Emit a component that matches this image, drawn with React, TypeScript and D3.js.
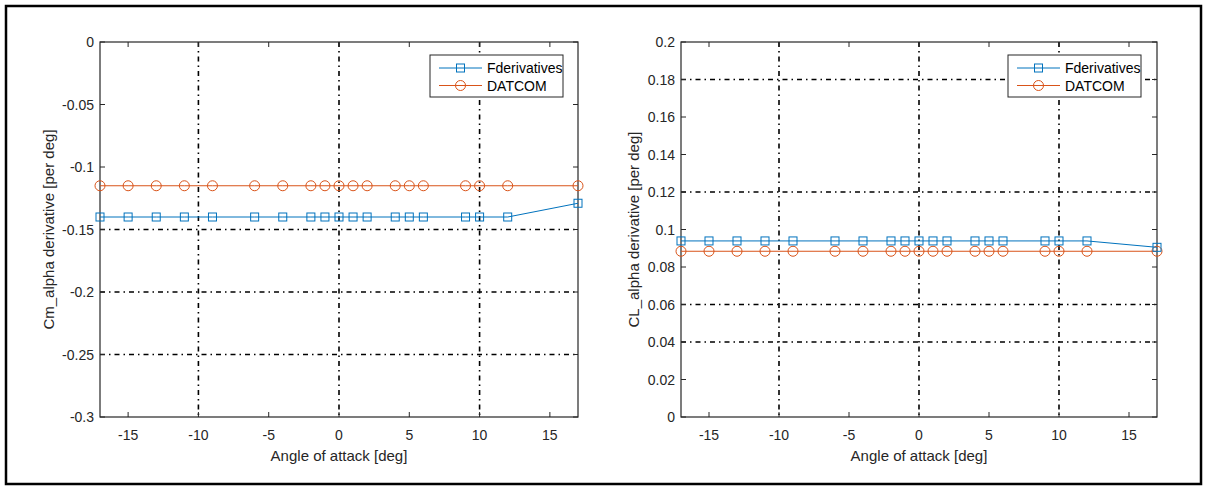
import React from "react";
import * as d3 from "d3";

const alpha = [-17, -15, -13, -11, -9, -6, -4, -2, -1, 0, 1, 2, 4, 5, 6, 9, 10, 12, 17];

const cmFderiv = [-0.14, -0.14, -0.14, -0.14, -0.14, -0.14, -0.14, -0.14, -0.14, -0.14, -0.14, -0.14, -0.14, -0.14, -0.14, -0.14, -0.14, -0.14, -0.129];
const cmDatcom = [-0.115, -0.115, -0.115, -0.115, -0.115, -0.115, -0.115, -0.115, -0.115, -0.115, -0.115, -0.115, -0.115, -0.115, -0.115, -0.115, -0.115, -0.115, -0.115];

const clFderiv = [0.0939, 0.0939, 0.0939, 0.0939, 0.0939, 0.0939, 0.0939, 0.0939, 0.0939, 0.0939, 0.0939, 0.0939, 0.0939, 0.0939, 0.0939, 0.0939, 0.0939, 0.0939, 0.0905];
const clDatcom = [0.0884, 0.0884, 0.0884, 0.0884, 0.0884, 0.0884, 0.0884, 0.0884, 0.0884, 0.0884, 0.0884, 0.0884, 0.0884, 0.0884, 0.0884, 0.0884, 0.0884, 0.0884, 0.0884];

const xTicks = [-15, -10, -5, 0, 5, 10, 15];
const xGrid = [-10, 0, 10];
const leftYTicks = [0, -0.05, -0.1, -0.15, -0.2, -0.25, -0.3];
const leftYGrid = [-0.15, -0.2, -0.25];
const rightYTicks = [0, 0.02, 0.04, 0.06, 0.08, 0.1, 0.12, 0.14, 0.16, 0.18, 0.2];
const rightYGrid = [0.18, 0.12, 0.06, 0.04];

const seriesNames = ["Fderivatives", "DATCOM"];
const BLUE = "#0072BD";
const ORANGE = "#D95319";
const AX = "#262626";
const FONT = "'Liberation Sans', Arial, Helvetica, sans-serif";

type PanelProps = {
  x0: number; x1: number; y0: number; y1: number;
  yDomain: [number, number];
  yTicks: number[]; yGrid: number[];
  s1: number[]; s2: number[];
  yLabel: string;
  yLabelOffset: number;
  legendX: number;
};

function fmt(v: number) {
  return String(+v.toFixed(3));
}

function Panel(p: PanelProps) {
  const x = d3.scaleLinear().domain([-17, 17]).range([p.x0, p.x1]);
  const y = d3.scaleLinear().domain(p.yDomain).range([p.y1, p.y0]);
  const line = d3.line<number>().x((_, i) => x(alpha[i])).y((d) => y(d));
  const dash = "5,4,1.5,4";
  const tl = 5;
  const lx = p.legendX;
  const ly = 55;
  return (
    <g>
      {xGrid.map((t) => (
        <line key={"gx" + t} x1={x(t)} x2={x(t)} y1={p.y0} y2={p.y1} stroke="#000" strokeWidth={1.6} strokeDasharray={dash} />
      ))}
      {p.yGrid.map((t) => (
        <line key={"gy" + t} x1={p.x0} x2={p.x1} y1={y(t)} y2={y(t)} stroke="#000" strokeWidth={1.6} strokeDasharray={dash} />
      ))}
      {xTicks.map((t) => (
        <g key={"xt" + t}>
          <line x1={x(t)} x2={x(t)} y1={p.y1} y2={p.y1 - tl} stroke={AX} />
          <line x1={x(t)} x2={x(t)} y1={p.y0} y2={p.y0 + tl} stroke={AX} />
          <text x={x(t)} y={p.y1 + 23} textAnchor="middle" fontSize={14} fill={AX} fontFamily={FONT}>{fmt(t)}</text>
        </g>
      ))}
      {p.yTicks.map((t) => (
        <g key={"yt" + t}>
          <line x1={p.x0} x2={p.x0 + tl} y1={y(t)} y2={y(t)} stroke={AX} />
          <line x1={p.x1} x2={p.x1 - tl} y1={y(t)} y2={y(t)} stroke={AX} />
          <text x={p.x0 - 6} y={y(t) + 5} textAnchor="end" fontSize={14} fill={AX} fontFamily={FONT}>{fmt(t)}</text>
        </g>
      ))}
      <rect x={p.x0} y={p.y0} width={p.x1 - p.x0} height={p.y1 - p.y0} fill="none" stroke={AX} strokeWidth={1.2} />
      <path d={line(p.s2) || ""} fill="none" stroke={ORANGE} strokeWidth={1} />
      {p.s2.map((v, i) => (
        <circle key={"c" + i} cx={x(alpha[i])} cy={y(v)} r={5} fill="none" stroke={ORANGE} strokeWidth={1} />
      ))}
      <path d={line(p.s1) || ""} fill="none" stroke={BLUE} strokeWidth={1} />
      {p.s1.map((v, i) => (
        <rect key={"s" + i} x={x(alpha[i]) - 4} y={y(v) - 4} width={8} height={8} fill="none" stroke={BLUE} strokeWidth={1} />
      ))}
      <text x={(p.x0 + p.x1) / 2} y={p.y1 + 44} textAnchor="middle" fontSize={15} fill={AX} fontFamily={FONT}>Angle of attack [deg]</text>
      <text transform={`translate(${p.x0 - p.yLabelOffset},${(p.y0 + p.y1) / 2}) rotate(-90)`} textAnchor="middle" fontSize={15} fill={AX} fontFamily={FONT}>{p.yLabel}</text>
      <rect x={lx} y={ly} width={133} height={42} fill="#fff" stroke={AX} strokeWidth={1} />
      <line x1={lx + 9} x2={lx + 52} y1={ly + 13} y2={ly + 13} stroke={BLUE} />
      <rect x={lx + 26.5} y={ly + 9} width={8} height={8} fill="none" stroke={BLUE} />
      <text x={lx + 57} y={ly + 18} fontSize={14} fill="#000" fontFamily={FONT}>{seriesNames[0]}</text>
      <line x1={lx + 9} x2={lx + 52} y1={ly + 30.5} y2={ly + 30.5} stroke={ORANGE} />
      <circle cx={lx + 30.5} cy={ly + 30.5} r={5} fill="none" stroke={ORANGE} />
      <text x={lx + 57} y={ly + 35.5} fontSize={14} fill="#000" fontFamily={FONT}>{seriesNames[1]}</text>
    </g>
  );
}

export default function App() {
  return (
    <svg width={1206} height={487} style={{ position: "absolute", left: 0, top: 0, background: "#fff" }}>
      <rect x={0} y={0} width={1206} height={487} fill="#fff" />
      <rect x={6} y={6} width={1195} height={478} fill="none" stroke="#000" strokeWidth={2.5} />
      <Panel x0={100} x1={578} y0={42} y1={417} yDomain={[-0.3, 0]} yTicks={leftYTicks} yGrid={leftYGrid}
        s1={cmFderiv} s2={cmDatcom} yLabel="Cm_alpha derivative [per deg]" yLabelOffset={46} legendX={430} />
      <Panel x0={681} x1={1157} y0={42} y1={417} yDomain={[0, 0.2]} yTicks={rightYTicks} yGrid={rightYGrid}
        s1={clFderiv} s2={clDatcom} yLabel="CL_alpha derivative [per deg]" yLabelOffset={42} legendX={1008} />
    </svg>
  );
}
